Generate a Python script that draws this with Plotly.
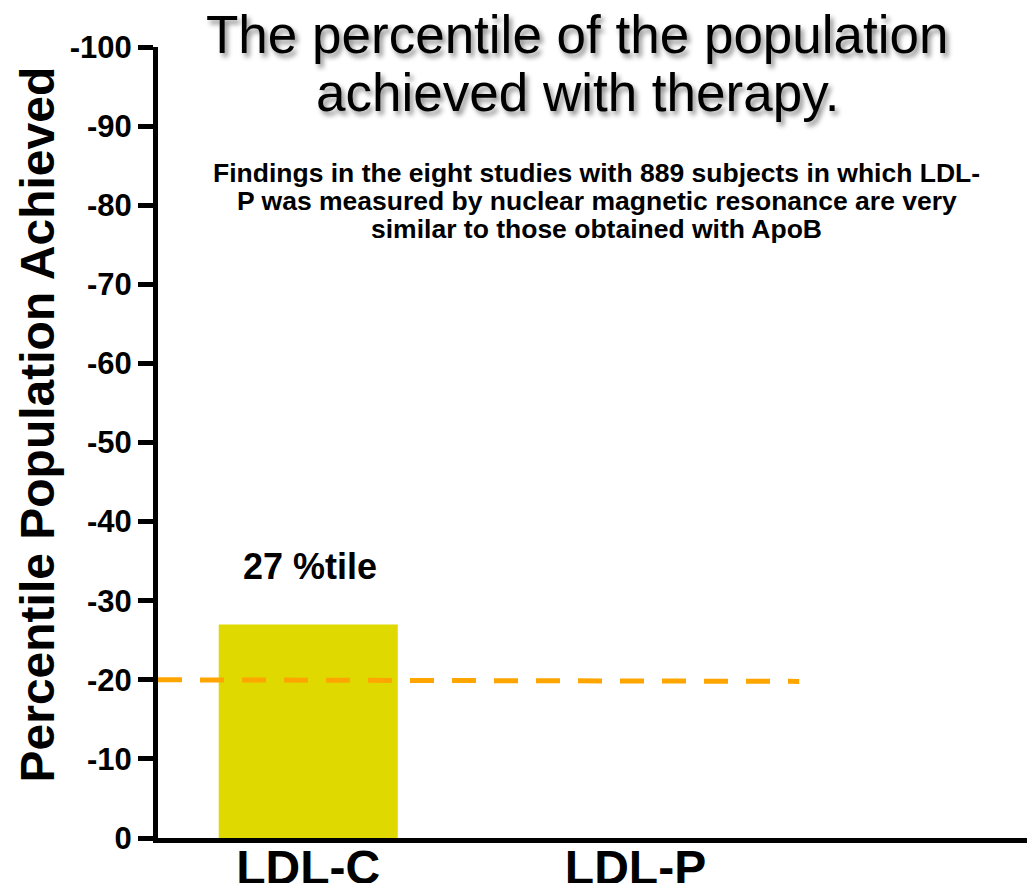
import plotly.graph_objects as go

categories = ["LDL-C", "LDL-P"]
values = [27, None]
bar_labels = ["27 %tile", ""]
target_y = [20, 19.8]
tick_vals = [0, 10, 20, 30, 40, 50, 60, 70, 80, 90, 100]
tick_text = ["0", "-10", "-20", "-30", "-40", "-50", "-60", "-70", "-80", "-90", "-100"]
title_lines = ["The percentile of the population", "achieved with therapy."]
subtitle_lines = [
    "Findings in the eight studies with 889 subjects in which LDL-",
    "P was measured by nuclear magnetic resonance are very",
    "similar to those obtained with ApoB",
]
y_title = "Percentile Population Achieved"

FONT = "Liberation Sans, Arial, sans-serif"
x_pos = list(range(len(categories)))
X_RANGE = [-0.459, 2.245]

fig = go.Figure()
fig.add_trace(go.Bar(
    x=x_pos, y=values, width=0.547,
    marker=dict(color="#dfd900", line=dict(width=0)),
    showlegend=False, hoverinfo="skip",
))
# dashed reference line from the y axis to mid-way past LDL-P
fig.add_trace(go.Scatter(
    x=[X_RANGE[0], x_pos[1] + 0.5], y=target_y, mode="lines",
    line=dict(color="#ffa500", width=5, dash="24px,18px"),
    showlegend=False, hoverinfo="skip", cliponaxis=False,
))
for xp, v, t in zip(x_pos, values, bar_labels):
    if v is not None and t:
        fig.add_annotation(x=xp, y=v, text="<b>%s</b>" % t, showarrow=False,
                           yshift=58, xshift=2,
                           font=dict(family=FONT, size=36, color="black"))

for i, line in enumerate(title_lines):
    fig.add_annotation(
        xref="paper", yref="paper", x=0.5, y=1.0, xanchor="center", yanchor="middle",
        text=line, showarrow=False, xshift=-23, yshift=13 - 58 * i,
        font=dict(family=FONT, size=53, color="black",
                  shadow="3px 4px 5px rgba(0,0,0,0.45)"),
    )
for i, line in enumerate(subtitle_lines):
    fig.add_annotation(
        xref="paper", yref="paper", x=0.5, y=1.0, xanchor="center", yanchor="middle",
        text="<b>%s</b>" % line, showarrow=False, xshift=-4, yshift=-126 - 28 * i,
        font=dict(family=FONT, size=26.5, color="black"),
    )
fig.add_annotation(
    xref="paper", yref="paper", x=0, y=0.5, xanchor="center", yanchor="middle",
    text="<b>%s</b>" % y_title, textangle=-90, showarrow=False,
    xshift=-121, yshift=18,
    font=dict(family=FONT, size=48, color="black"),
)

fig.update_layout(
    width=1035, height=883,
    margin=dict(l=150, r=0, t=39, b=53),
    paper_bgcolor="white", plot_bgcolor="white",
    xaxis=dict(
        range=X_RANGE, showgrid=False, zeroline=False, automargin=False,
        showline=True, linecolor="black", linewidth=5,
        ticks="", tickfont=dict(family=FONT, size=48, color="black"),
        tickvals=x_pos, ticktext=["<b>%s</b>" % c for c in categories],
        ticklabelstandoff=-17,
    ),
    yaxis=dict(
        range=[0, 100], showgrid=False, zeroline=False, automargin=False,
        showline=True, linecolor="black", linewidth=5,
        ticks="outside", ticklen=15, tickwidth=5, tickcolor="black",
        tickvals=tick_vals, ticktext=["<b>%s</b>" % t for t in tick_text],
        tickfont=dict(family=FONT, size=31, color="black"),
    ),
)

fig.write_html("out.html")
